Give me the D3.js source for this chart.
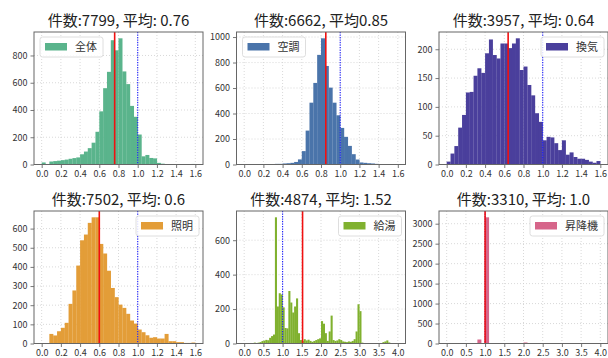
<!DOCTYPE html>
<html>
<head>
<meta charset="utf-8">
<script src="https://cdn.jsdelivr.net/npm/d3@7"></script>
<style>
  html, body { margin: 0; padding: 0; background: #fff; }
  svg { display: block; }
  text { font-family: "Noto Sans CJK JP", "Noto Sans", sans-serif; }
</style>
</head>
<body>
<svg id="chart" width="608" height="358"></svg>
<script>
// Histogram bin counts per end-use (ratio values), bins start at 0
const zentaiCounts = [15,0,22,25,28,32,36,42,47,52,75,95,120,160,240,390,560,680,912,838,926,683,590,430,350,220,60,70,48,45,12,6,3,2,2,1,1,1,1,4];
const kuchoCounts  = [0,0,0,0,1,2,2,3,5,5,8,10,13,20,40,105,266,485,640,860,990,773,603,485,386,287,217,146,81,39,16,13,10,8,5,3,2,2,1,1];
const kankiCounts  = [5,19,32,64,86,125,126,154,167,159,193,217,190,184,210,210,202,210,219,164,170,138,120,89,74,42,48,47,37,25,42,17,21,13,10,10,8,5,3,6];
const shomeiCounts = [0,0,50,42,64,82,108,207,277,407,539,569,630,659,659,520,470,380,290,242,203,186,155,120,104,73,59,43,30,33,26,26,50,12,12,7,7,3,3,5];
const kyutoCounts  = [0,0,2,3,2,5,3,5,8,14,17,21,19,33,43,52,733,215,292,285,210,90,88,305,238,180,215,262,60,20,15,25,18,22,15,10,15,20,25,30,130,115,60,15,70,162,20,15,18,25,20,12,10,8,12,10,15,25,70,228,188,5,0,0,0,0,0,0,0,0,0,0,8,12,18,6,0,0,0,0];
const shokokiCounts = [0,0,0,0,0,0,0,0,100,0,3160,0,0,0,0,0,0,0,0,0,25,0,0,0,0,0,0,0,0,0,0,0,0,0,0,0,0,0,0,0];

const binWidths   = [0.04, 0.04, 0.04, 0.04, 0.05, 0.1];
const seriesLabels = ["全体", "空調", "換気", "照明", "給湯", "昇降機"];
const titleTexts  = ["件数:7799, 平均: 0.76", "件数:6662, 平均0.85", "件数:3957, 平均: 0.64",
                     "件数:7502, 平均: 0.6", "件数:4874, 平均: 1.52", "件数:3310, 平均: 1.0"];
const meanValues  = [0.76, 0.85, 0.64, 0.6, 1.52, 1.0];
const referenceValue = 1.0;

const xTicksShort = [0, 0.2, 0.4, 0.6, 0.8, 1.0, 1.2, 1.4, 1.6];
const xTicksLong  = [0, 0.5, 1.0, 1.5, 2.0, 2.5, 3.0, 3.5, 4.0];
const yTickSets = [
  [0, 200, 400, 600, 800],
  [0, 200, 400, 600, 800, 1000],
  [0, 50, 100, 150, 200],
  [0, 100, 200, 300, 400, 500, 600],
  [0, 200, 400, 600],
  [0, 500, 1000, 1500, 2000, 2500, 3000]
];

const allCounts = [zentaiCounts, kuchoCounts, kankiCounts, shomeiCounts, kyutoCounts, shokokiCounts];
const colors = ["#5ab48c", "#4a74aa", "#4a3f9c", "#e39d38", "#80b12f", "#d6658a"];
const legendSide = ["left", "left", "right", "right", "right", "right"];

const svg = d3.select("#chart");
const lefts = [34, 236.5, 439];
const tops = [32, 211];
const pw = 169, ph = 132.5;

allCounts.forEach((counts, i) => {
  const col = i % 3, row = Math.floor(i / 3);
  const g = svg.append("g").attr("transform", `translate(${lefts[col]},${tops[row]})`);
  const bw = binWidths[i];
  const hi = bw * counts.length;
  const pad = hi * 0.05;
  const x = d3.scaleLinear().domain([-pad, hi + pad]).range([0, pw]);
  const y = d3.scaleLinear().domain([0, d3.max(counts) * 1.05]).range([ph, 0]);
  const xTicks = hi > 2 ? xTicksLong : xTicksShort;
  const yTicks = yTickSets[i];

  // grid
  g.append("g").selectAll("line.gx").data(xTicks).join("line")
    .attr("x1", d => x(d)).attr("x2", d => x(d)).attr("y1", 0).attr("y2", ph)
    .attr("stroke", "#cfcfcf").attr("stroke-width", 0.8).attr("stroke-dasharray", "1,2");
  g.append("g").selectAll("line.gy").data(yTicks).join("line")
    .attr("x1", 0).attr("x2", pw).attr("y1", d => y(d)).attr("y2", d => y(d))
    .attr("stroke", "#cfcfcf").attr("stroke-width", 0.8).attr("stroke-dasharray", "1,2");

  // bars
  const bins = counts.map((c, k) => ({ x0: k * bw, x1: (k + 1) * bw, c }));
  g.append("g").selectAll("rect").data(bins.filter(b => b.c > 0)).join("rect")
    .attr("x", d => x(d.x0))
    .attr("width", d => x(d.x1) - x(d.x0) + 0.15)
    .attr("y", d => y(d.c))
    .attr("height", d => ph - y(d.c))
    .attr("fill", colors[i]);

  // reference and mean lines
  g.append("line")
    .attr("x1", x(referenceValue)).attr("x2", x(referenceValue)).attr("y1", 0).attr("y2", ph)
    .attr("stroke", "#1a1aff").attr("stroke-width", 1.1).attr("stroke-dasharray", "1.2,1.3");
  g.append("line")
    .attr("x1", x(meanValues[i])).attr("x2", x(meanValues[i])).attr("y1", 0).attr("y2", ph)
    .attr("stroke", "#f01010").attr("stroke-width", 1.6);

  // axes
  const xAxis = g.append("g").attr("transform", `translate(0,${ph})`)
    .call(d3.axisBottom(x).tickValues(xTicks).tickFormat(d3.format(".1f")).tickSize(3.5).tickPadding(3));
  const yAxis = g.append("g")
    .call(d3.axisLeft(y).tickValues(yTicks).tickFormat(d3.format("d")).tickSize(3.5).tickPadding(3));
  [xAxis, yAxis].forEach(a => {
    a.select(".domain").remove();
    a.selectAll(".tick line").attr("stroke", "#555").attr("stroke-width", 0.8);
    a.selectAll(".tick text").attr("fill", "#333").style("font-size", "9px")
      .style("font-family", '"Noto Sans CJK JP", sans-serif');
  });

  // frame
  g.append("rect").attr("x", 0).attr("y", 0).attr("width", pw).attr("height", ph)
    .attr("fill", "none").attr("stroke", "#666").attr("stroke-width", 1);

  // title
  g.append("text").attr("x", pw / 2).attr("y", -6).attr("text-anchor", "middle")
    .attr("fill", "#222").style("font-size", "15px").text(titleTexts[i]);

  // legend
  const lg = g.append("g");
  const label = lg.append("text").style("font-size", "11px").attr("fill", "#333").text(seriesLabels[i]);
  const tw = label.node().getComputedTextLength();
  const boxW = 5 + 22 + 8 + tw + 6, boxH = 20;
  const bx = legendSide[i] === "left" ? 6 : pw - 4 - boxW;
  const by = 5;
  lg.insert("rect", "text").attr("x", bx).attr("y", by).attr("width", boxW).attr("height", boxH)
    .attr("rx", 2.5).attr("fill", "rgba(255,255,255,0.85)").attr("stroke", "#d6d6d6").attr("stroke-width", 0.8);
  lg.insert("rect", "text").attr("x", bx + 5).attr("y", by + 6).attr("width", 22).attr("height", 7.5)
    .attr("fill", colors[i]);
  label.attr("x", bx + 35).attr("y", by + 14);
});
</script>
</body>
</html>
